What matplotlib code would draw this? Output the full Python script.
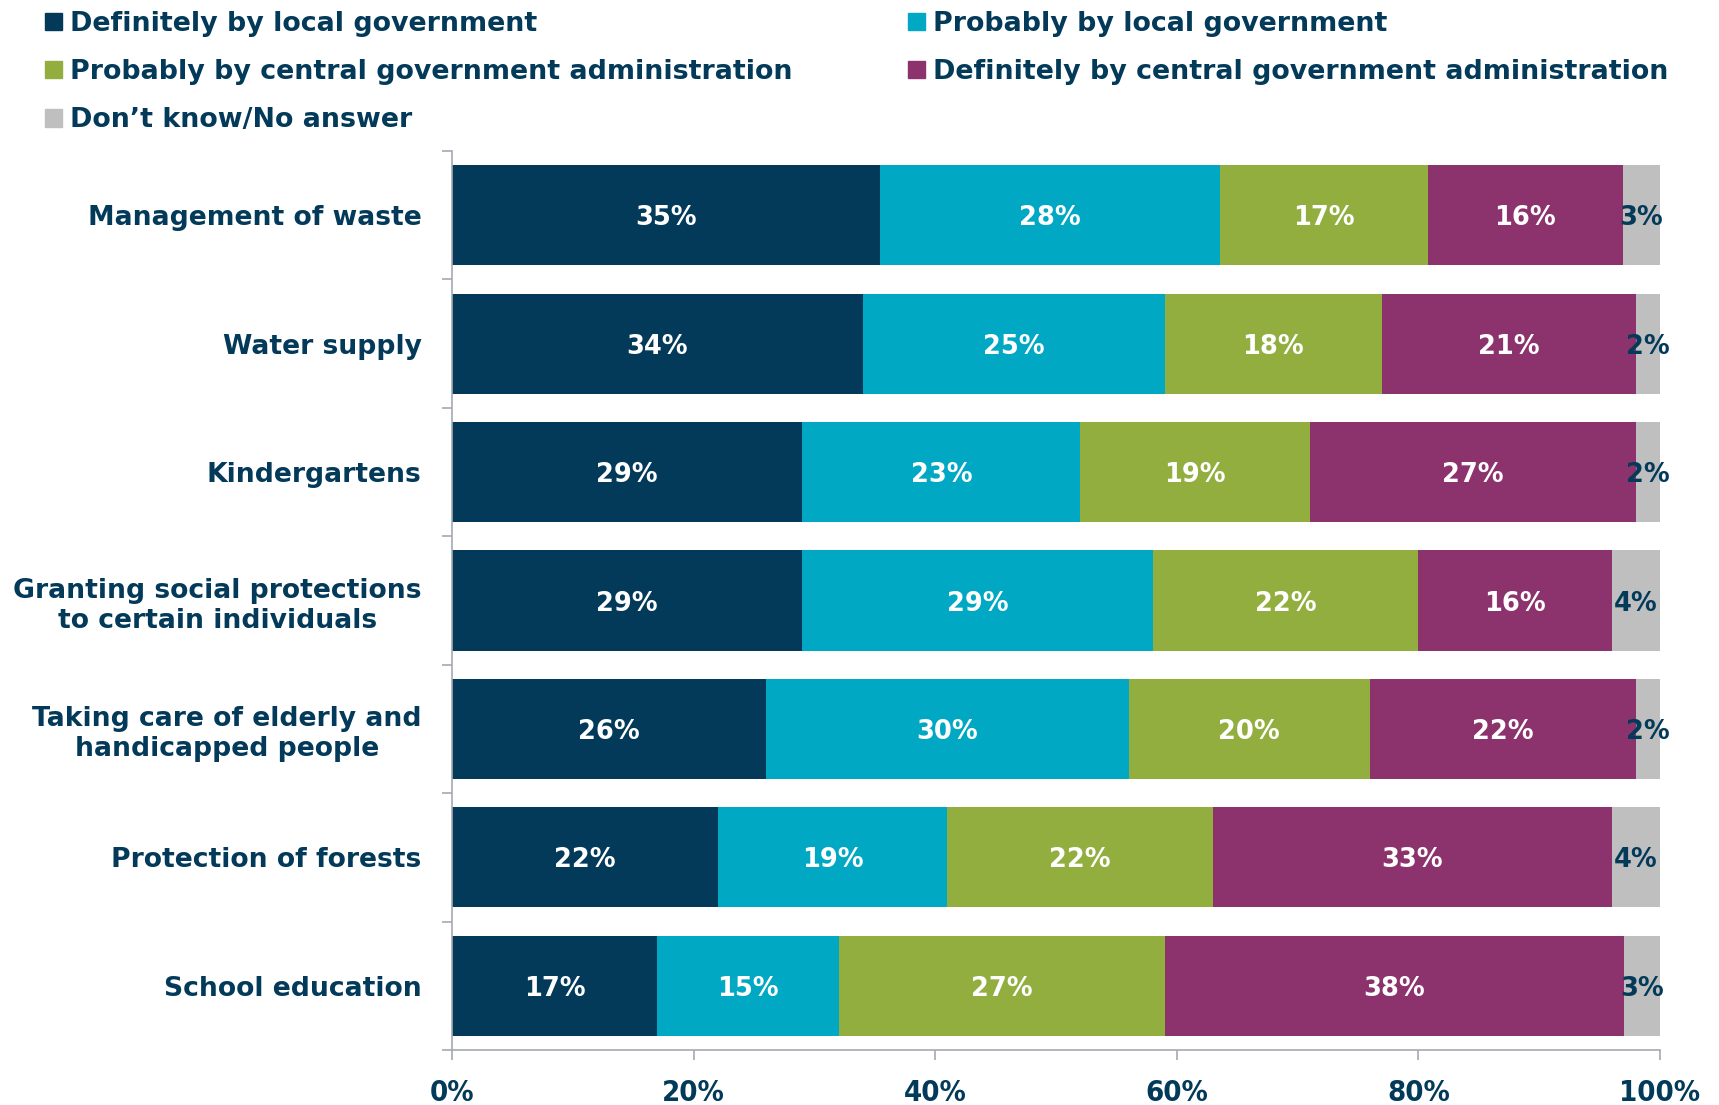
import numpy as np
import matplotlib.pyplot as plt
from matplotlib.patches import Patch
from matplotlib.ticker import FixedLocator

categories = ["Management of waste", "Water supply", "Kindergartens",
              "Granting social protections\nto certain individuals",
              "Taking care of elderly and\nhandicapped people",
              "Protection of forests", "School education"]
series = ["Definitely by local government", "Probably by local government",
          "Probably by central government administration",
          "Definitely by central government administration",
          "Don\u2019t know/No answer"]
def_local = [35.4, 34, 29, 29, 26, 22, 17]
prob_local = [28.2, 25, 23, 29, 30, 19, 15]
prob_central = [17.2, 18, 19, 22, 20, 22, 27]
def_central = [16.1, 21, 27, 16, 22, 33, 38]
dont_know = [3.1, 2, 2, 4, 2, 4, 3]
xticks = [0, 20, 40, 60, 80, 100]

colors = ["#033A5A", "#00A8C4", "#92AE3F", "#8C326C", "#BFBFBF"]
navy = "#033A5A"
grey = "#A6A9B0"

plt.rcParams['font.family'] = ['DejaVu Sans']
plt.rcParams['font.weight'] = 'bold'

fig = plt.figure(figsize=(17.19, 11.05), dpi=100)
ax = fig.add_axes([0.263, 0.0498, 0.7027, 0.8135])

data = np.array([def_local, prob_local, prob_central, def_central, dont_know])
y = np.arange(len(categories))
left = np.zeros(len(categories))
for i in range(len(series)):
	ax.barh(y, data[i], left=left, height=0.78, color=colors[i], label=series[i])
	for j in range(len(categories)):
		tc = navy if i == 4 else "white"
		ax.text(left[j] + data[i][j]/2, y[j], "{0:.0f}%".format(data[i][j]),
				ha='center', va='center_baseline', color=tc, fontsize=18.5, fontweight='bold')
	left += data[i]

ax.set_xlim(0, 100)
ax.set_ylim(len(categories) - 0.5, -0.5)
ax.set_yticks(y)
ax.set_yticklabels(categories, fontsize=19.2, color=navy, fontweight='bold')
for lab in ax.get_yticklabels():
	lab.set_multialignment('center')
ax.yaxis.set_minor_locator(FixedLocator(np.arange(-0.5, len(categories), 1)))
ax.tick_params(axis='y', which='major', length=0, pad=22)
ax.tick_params(axis='y', which='minor', length=7, color=grey, width=1.2)
ax.set_xticks(xticks)
ax.set_xticklabels(["{0}%".format(t) for t in xticks], fontsize=21, color=navy,
				   fontweight='bold', fontstretch='condensed')
ax.tick_params(axis='x', length=7, color=grey, width=1.2, pad=14)
for s in ['top', 'right']:
	ax.spines[s].set_visible(False)
for s in ['left', 'bottom']:
	ax.spines[s].set_color(grey)
	ax.spines[s].set_linewidth(1.2)

handles = [Patch(color=c) for c in colors]
order = [0, 2, 4, 1, 3]
fig.legend([handles[k] for k in order], [series[k] for k in order], ncol=2,
		   loc='upper left', bbox_to_anchor=(0.012, 1.012), frameon=False,
		   prop={'size': 19.35, 'weight': 'bold'}, labelcolor=navy,
		   handlelength=0.65, handleheight=0.65, handletextpad=0.28,
		   columnspacing=4.3, labelspacing=0.82)

plt.savefig("out.png", dpi=100)
